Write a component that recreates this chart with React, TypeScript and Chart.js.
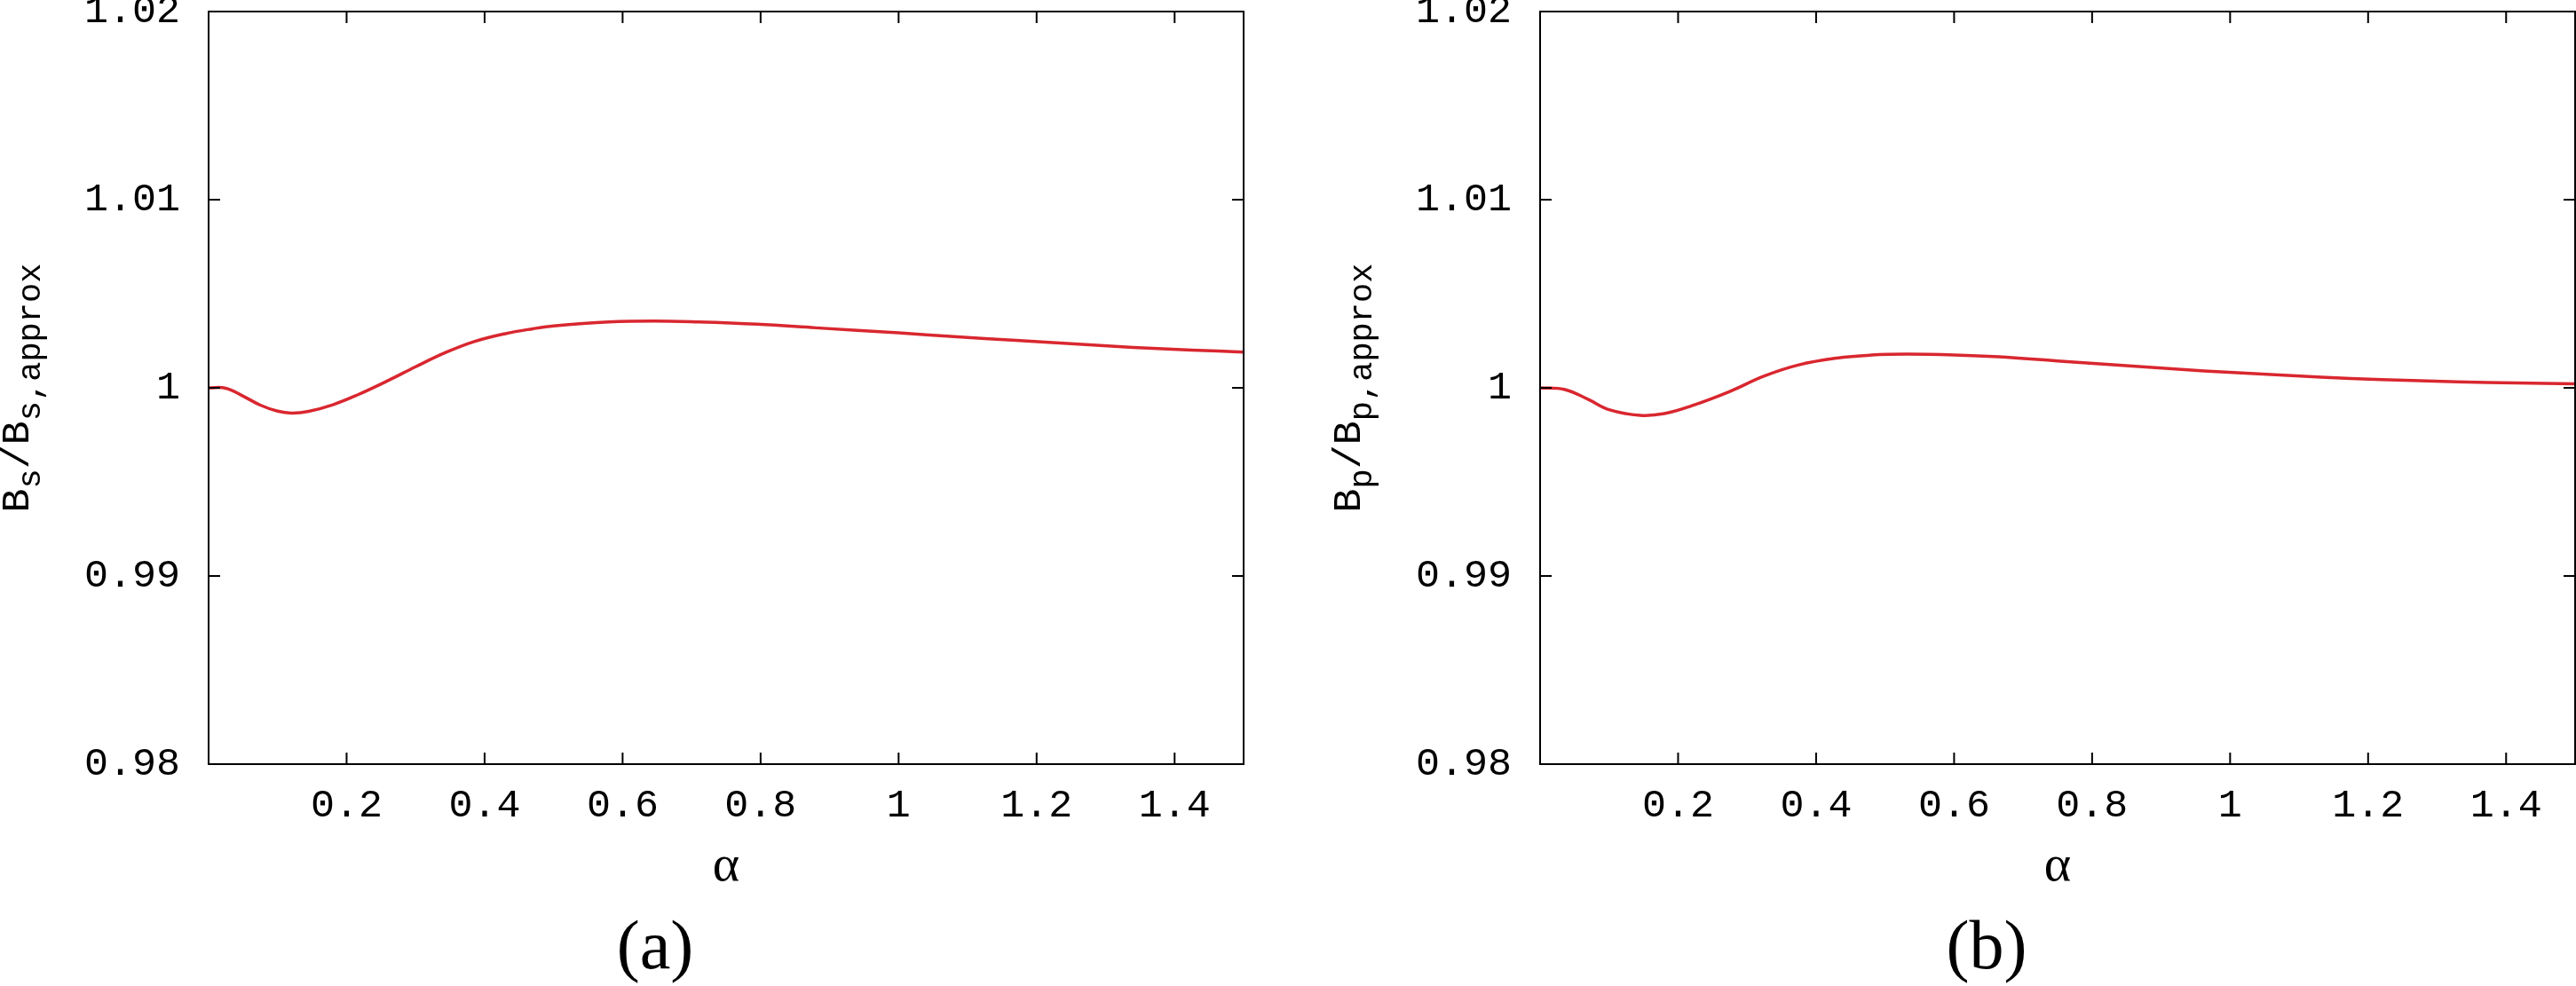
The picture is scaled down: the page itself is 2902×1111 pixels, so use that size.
import React, { useEffect, useRef } from 'react';
import Chart from 'chart.js/auto';

// alpha values and B / B_approx ratios
const alphaA = [0, 0.025, 0.05, 0.075, 0.1, 0.12, 0.145, 0.18, 0.215, 0.26, 0.3, 0.345, 0.385, 0.43, 0.47, 0.5, 0.58, 0.645, 0.71, 0.795, 0.88, 1.0, 1.08, 1.17, 1.255, 1.34, 1.425, 1.5];
const ratioA = [1.0, 0.99998, 0.99956, 0.99908, 0.99876, 0.99866, 0.99875, 0.9991, 0.99961, 1.00038, 1.00112, 1.0019, 1.00246, 1.00288, 1.00314, 1.00329, 1.0035, 1.00355, 1.0035, 1.00338, 1.00319, 1.00292, 1.00272, 1.00252, 1.00233, 1.00215, 1.00201, 1.0019];

const alphaB = [0, 0.035, 0.07, 0.1, 0.145, 0.18, 0.22, 0.275, 0.325, 0.375, 0.43, 0.48, 0.53, 0.6, 0.665, 0.75, 0.835, 0.92, 1.005, 1.09, 1.175, 1.265, 1.33, 1.415, 1.5];
const ratioB = [1.0, 0.99992, 0.99938, 0.99884, 0.99854, 0.99863, 0.99905, 0.99981, 1.00063, 1.00122, 1.00158, 1.00174, 1.00179, 1.00175, 1.00165, 1.00143, 1.00122, 1.001, 1.00081, 1.00065, 1.0005, 1.00039, 1.00032, 1.00026, 1.00021];

const xTicks = [0.2, 0.4, 0.6, 0.8, 1, 1.2, 1.4];
const xTickLabels = ['0.2', '0.4', '0.6', '0.8', '1', '1.2', '1.4'];
const yTicks = [0.98, 0.99, 1, 1.01, 1.02];
const yTickLabels = ['0.98', '0.99', '1', '1.01', '1.02'];

const MONO = '"Liberation Mono", "DejaVu Sans Mono", monospace';
const SERIF = '"Liberation Serif", "DejaVu Serif", serif';

const CANVAS_H = 1010;
const PLOT_TOP = 13;
const PLOT_BOTTOM = 861;
const PLOT_LEFT = 235;
const PLOT_W = 1166;

type TitlePart = [string, boolean];

// box, inward ticks on all four sides and the subscripted y title
const framePlugin = {
    id: 'frame',
    afterDraw(chart: any, _args: any, opts: any) {
        const { ctx, chartArea: a, scales } = chart;
        ctx.save();
        ctx.strokeStyle = '#000';
        ctx.lineWidth = 2;
        ctx.strokeRect(a.left, a.top, a.right - a.left, a.bottom - a.top);

        const len = 13;
        ctx.beginPath();
        xTicks.forEach((v) => {
            const px = scales.x.getPixelForValue(v);
            ctx.moveTo(px, a.bottom);
            ctx.lineTo(px, a.bottom - len);
            ctx.moveTo(px, a.top);
            ctx.lineTo(px, a.top + len);
        });
        yTicks.forEach((v) => {
            const py = scales.y.getPixelForValue(v);
            ctx.moveTo(a.left, py);
            ctx.lineTo(a.left + len, py);
            ctx.moveTo(a.right, py);
            ctx.lineTo(a.right - len, py);
        });
        ctx.stroke();

        const parts: TitlePart[] = opts.title || [];
        const mainFont = `45px ${MONO}`;
        const subFont = `37px ${MONO}`;
        let total = 0;
        parts.forEach(([t, sub]) => {
            ctx.font = sub ? subFont : mainFont;
            total += ctx.measureText(t).width;
        });
        ctx.translate(32, (a.top + a.bottom) / 2);
        ctx.rotate(-Math.PI / 2);
        ctx.fillStyle = '#000';
        ctx.textBaseline = 'alphabetic';
        ctx.textAlign = 'left';
        let x = -total / 2;
        parts.forEach(([t, sub]) => {
            ctx.font = sub ? subFont : mainFont;
            ctx.fillText(t, x, sub ? 13 : 0);
            x += ctx.measureText(t).width;
        });
        ctx.restore();
    },
};

interface PanelProps {
    left: number;
    padRight: number;
    alphas: number[];
    ratios: number[];
    title: TitlePart[];
}

function Panel({ left, padRight, alphas, ratios, title }: PanelProps) {
    const chartRef = useRef<HTMLCanvasElement>(null);
    const chartInstance = useRef<Chart | null>(null);
    const width = PLOT_LEFT + PLOT_W + padRight;

    useEffect(() => {
        if (!chartRef.current) return;
        if (chartInstance.current) chartInstance.current.destroy();
        const ctx = chartRef.current.getContext('2d');
        if (!ctx) return;

        chartInstance.current = new Chart(ctx, {
            type: 'line',
            data: {
                datasets: [{
                    data: alphas.map((a, i) => ({ x: a, y: ratios[i] })),
                    borderColor: '#d9272f',
                    borderWidth: 3.5,
                    pointRadius: 0,
                    fill: false,
                    tension: 0.4,
                }],
            },
            options: {
                animation: false,
                responsive: false,
                devicePixelRatio: 1,
                events: [],
                layout: { padding: { top: PLOT_TOP, right: padRight, bottom: 0, left: 0 } },
                plugins: {
                    legend: { display: false },
                    tooltip: { enabled: false },
                    frame: { title },
                },
                scales: {
                    x: {
                        type: 'linear',
                        min: 0,
                        max: 1.5,
                        grid: { display: false, drawTicks: false },
                        border: { display: false },
                        afterBuildTicks: (s: any) => { s.ticks = xTicks.map((v) => ({ value: v })); },
                        afterFit: (s: any) => {
                            s.height = CANVAS_H - PLOT_BOTTOM;
                            s.paddingLeft = 0;
                            s.paddingRight = 0;
                        },
                        ticks: {
                            autoSkip: false,
                            maxRotation: 0,
                            padding: 20,
                            color: '#000',
                            font: { family: MONO, size: 45 },
                            callback: (_v: any, i: number) => xTickLabels[i],
                        },
                        title: {
                            display: true,
                            text: 'α',
                            color: '#000',
                            font: { family: SERIF, size: 58, lineHeight: 1 },
                            padding: { top: 0, bottom: 4 },
                        },
                    },
                    y: {
                        type: 'linear',
                        min: 0.98,
                        max: 1.02,
                        grid: { display: false, drawTicks: false },
                        border: { display: false },
                        afterBuildTicks: (s: any) => { s.ticks = yTicks.map((v) => ({ value: v })); },
                        afterFit: (s: any) => {
                            s.width = PLOT_LEFT;
                            s.paddingTop = 0;
                            s.paddingBottom = 0;
                        },
                        ticks: {
                            autoSkip: false,
                            padding: 32,
                            color: '#000',
                            font: { family: MONO, size: 45 },
                            callback: (_v: any, i: number) => yTickLabels[i],
                        },
                    },
                },
            } as any,
            plugins: [framePlugin],
        });

        return () => {
            if (chartInstance.current) {
                chartInstance.current.destroy();
                chartInstance.current = null;
            }
        };
    }, []);

    return (
        <canvas
            ref={chartRef}
            width={width}
            height={CANVAS_H}
            style={{ position: 'absolute', left, top: 0, width, height: CANVAS_H }}
        ></canvas>
    );
}

export default function App() {
    const caption: React.CSSProperties = {
        position: 'absolute',
        top: 1026,
        width: 200,
        textAlign: 'center',
        fontFamily: SERIF,
        fontSize: 78,
        lineHeight: 1,
        color: '#000',
    };
    return (
        <div style={{ position: 'absolute', left: 0, top: 0, width: 2902, height: 1111, background: '#fff', overflow: 'hidden' }}>
            <Panel left={0} padRight={49} alphas={alphaA} ratios={ratioA} title={[['B', false], ['s', true], ['/B', false], ['s,approx', true]]} />
            <Panel left={1500} padRight={2} alphas={alphaB} ratios={ratioB} title={[['B', false], ['p', true], ['/B', false], ['p,approx', true]]} />
            <div style={{ ...caption, left: 738 - 100 }}>(a)</div>
            <div style={{ ...caption, left: 2238 - 100 }}>(b)</div>
        </div>
    );
}
